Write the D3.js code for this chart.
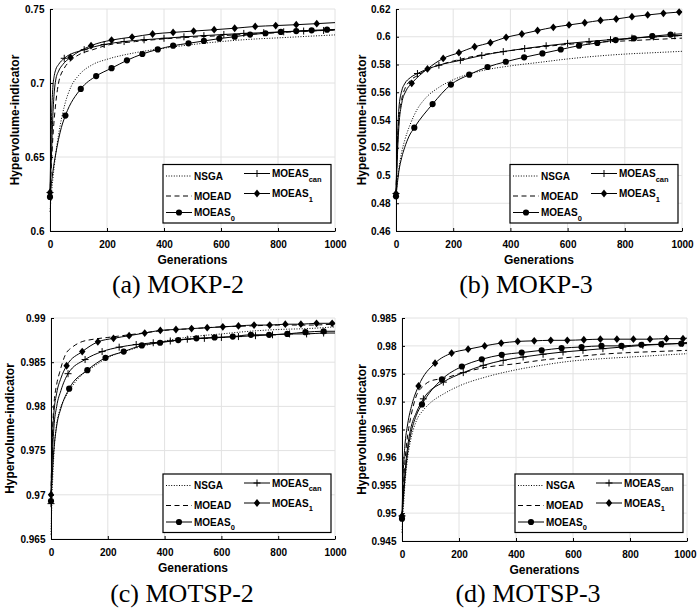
<!DOCTYPE html>
<html>
<head>
<meta charset="utf-8">
<script src="https://cdn.jsdelivr.net/npm/d3@7"></script>
<style>
  body { margin: 0; background: #fff; }
  svg { display: block; }
  text { font-family: "Liberation Sans", Arial, sans-serif; }
</style>
</head>
<body>
<svg id="chart" width="697" height="610"></svg>
<script>
// tick values
const xGenTicks = [0, 200, 400, 600, 800, 1000];
const kp2Ticks = [0.6, 0.65, 0.7, 0.75];
const kp3Ticks = [0.46, 0.48, 0.5, 0.52, 0.54, 0.56, 0.58, 0.6, 0.62];
const tsp2Ticks = [0.965, 0.97, 0.975, 0.98, 0.985, 0.99];
const tsp3Ticks = [0.945, 0.95, 0.955, 0.96, 0.965, 0.97, 0.975, 0.98, 0.985];

// generations used by the unmarked curves (NSGA, MOEAD)
const plainGens = [0, 5, 10, 20, 30, 50, 75, 100, 150, 200, 300, 400, 500, 600, 700, 800, 900, 1000];

// ---- (a) MOKP-2
const kp2NSGA  = [0.613, 0.625, 0.635, 0.652, 0.665, 0.684, 0.698, 0.705, 0.7125, 0.716, 0.7205, 0.7235, 0.726, 0.728, 0.7295, 0.7305, 0.7315, 0.7325];
const kp2MOEAD = [0.625, 0.645, 0.663, 0.686, 0.700, 0.710, 0.7155, 0.719, 0.7225, 0.7255, 0.728, 0.7298, 0.731, 0.732, 0.733, 0.734, 0.735, 0.7358];
const kp2S0Gens  = [0, 10, 20, 30, 40, 54, 108, 162, 216, 270, 324, 378, 432, 486, 540, 594, 648, 702, 756, 810, 864, 918, 972, 1000];
const kp2S0      = [0.623, 0.640, 0.652, 0.662, 0.670, 0.678, 0.696, 0.7047, 0.710, 0.7153, 0.7196, 0.7227, 0.7252, 0.7268, 0.7284, 0.730, 0.7313, 0.7327, 0.7336, 0.7345, 0.7351, 0.7356, 0.736, 0.7362];
const kp2S0Marks = [0, 54, 108, 162, 216, 270, 324, 378, 432, 486, 540, 594, 648, 702, 756, 810, 864, 918, 972];
const kp2ScanGens  = [0, 3, 6, 10, 15, 20, 30, 50, 120, 190, 260, 330, 400, 470, 540, 610, 680, 750, 820, 890, 960, 1000];
const kp2Scan      = [0.626, 0.655, 0.680, 0.697, 0.705, 0.709, 0.7125, 0.7167, 0.7225, 0.726, 0.728, 0.7292, 0.7302, 0.7312, 0.732, 0.7328, 0.7335, 0.734, 0.7346, 0.7351, 0.7355, 0.7358];
const kp2ScanMarks = [0, 50, 120, 190, 260, 330, 400, 470, 540, 610, 680, 750, 820, 890, 960];
const kp2S1Gens  = [0, 5, 10, 15, 20, 30, 45, 72, 144, 216, 288, 360, 432, 504, 576, 648, 720, 792, 864, 936, 1000];
const kp2S1      = [0.626, 0.650, 0.678, 0.694, 0.702, 0.708, 0.7125, 0.7173, 0.7252, 0.729, 0.731, 0.7331, 0.7342, 0.7351, 0.736, 0.737, 0.7382, 0.7388, 0.7394, 0.7401, 0.7408];
const kp2S1Marks = [0, 72, 144, 216, 288, 360, 432, 504, 576, 648, 720, 792, 864, 936];

// ---- (b) MOKP-3
const kp3NSGA  = [0.484, 0.497, 0.505, 0.517, 0.525, 0.537, 0.548, 0.555, 0.5635, 0.569, 0.5755, 0.579, 0.5815, 0.584, 0.586, 0.5875, 0.5885, 0.5895];
const kp3MOEAD = [0.487, 0.520, 0.540, 0.555, 0.562, 0.5685, 0.572, 0.5755, 0.5795, 0.5825, 0.587, 0.590, 0.5925, 0.5945, 0.596, 0.597, 0.598, 0.599];
const kp3S0Gens  = [0, 10, 20, 30, 45, 64, 128, 192, 256, 320, 384, 448, 512, 576, 640, 704, 768, 832, 896, 960, 1000];
const kp3S0      = [0.485, 0.503, 0.513, 0.520, 0.528, 0.5345, 0.5515, 0.5655, 0.5727, 0.5782, 0.582, 0.5852, 0.588, 0.5908, 0.5936, 0.5955, 0.5976, 0.5989, 0.6004, 0.6016, 0.6021];
const kp3S0Marks = [0, 64, 128, 192, 256, 320, 384, 448, 512, 576, 640, 704, 768, 832, 896, 960];
const kp3ScanGens  = [0, 5, 10, 20, 30, 50, 75, 150, 225, 300, 375, 450, 525, 600, 675, 750, 825, 900, 975, 1000];
const kp3Scan      = [0.487, 0.525, 0.548, 0.561, 0.566, 0.5705, 0.5735, 0.5795, 0.583, 0.5865, 0.5893, 0.5915, 0.5935, 0.5952, 0.5966, 0.5979, 0.599, 0.5999, 0.6007, 0.601];
const kp3ScanMarks = [0, 75, 150, 225, 300, 375, 450, 525, 600, 675, 750, 825, 900, 975];
const kp3S1Gens  = [0, 5, 10, 20, 35, 55, 110, 165, 220, 275, 330, 385, 440, 495, 550, 605, 660, 715, 770, 825, 880, 935, 990, 1000];
const kp3S1      = [0.487, 0.515, 0.535, 0.552, 0.561, 0.5664, 0.5768, 0.5844, 0.5885, 0.5928, 0.5957, 0.5996, 0.602, 0.6045, 0.6068, 0.6085, 0.6101, 0.6118, 0.6128, 0.6145, 0.6157, 0.6169, 0.6178, 0.618];
const kp3S1Marks = [0, 55, 110, 165, 220, 275, 330, 385, 440, 495, 550, 605, 660, 715, 770, 825, 880, 935, 990];

// ---- (c) MOTSP-2
const tsp2NSGA  = [0.9655, 0.971, 0.9745, 0.978, 0.9795, 0.981, 0.9823, 0.9833, 0.9845, 0.9855, 0.9866, 0.9874, 0.9879, 0.9882, 0.9885, 0.9887, 0.9888, 0.989];
const tsp2MOEAD = [0.970, 0.977, 0.980, 0.9825, 0.9838, 0.9858, 0.9867, 0.9872, 0.9876, 0.9878, 0.9882, 0.9886, 0.9888, 0.989, 0.9891, 0.9892, 0.9892, 0.9893];
const tsp2S0Gens  = [0, 5, 10, 20, 35, 64, 128, 192, 256, 320, 384, 448, 512, 576, 640, 704, 768, 832, 896, 960, 1000];
const tsp2S0      = [0.9693, 0.9725, 0.975, 0.9778, 0.9798, 0.982, 0.9841, 0.9855, 0.9862, 0.9869, 0.9872, 0.9875, 0.9877, 0.9878, 0.9879, 0.9881, 0.9881, 0.9882, 0.9884, 0.9885, 0.9885];
const tsp2S0Marks = [0, 64, 128, 192, 256, 320, 384, 448, 512, 576, 640, 704, 768, 832, 896, 960];
const tsp2ScanGens  = [0, 5, 10, 20, 35, 60, 120, 180, 240, 300, 360, 420, 480, 540, 600, 660, 720, 780, 840, 900, 960, 1000];
const tsp2Scan      = [0.969, 0.9745, 0.9775, 0.980, 0.9818, 0.9837, 0.9853, 0.9862, 0.9867, 0.987, 0.9872, 0.9874, 0.9876, 0.9877, 0.9878, 0.9879, 0.988, 0.9881, 0.9882, 0.9882, 0.9883, 0.9883];
const tsp2ScanMarks = [0, 60, 120, 180, 240, 300, 360, 420, 480, 540, 600, 660, 720, 780, 840, 900, 960];
const tsp2S1Gens  = [0, 5, 10, 20, 35, 55, 110, 165, 220, 275, 330, 385, 440, 495, 550, 605, 660, 715, 770, 825, 880, 935, 990, 1000];
const tsp2S1      = [0.970, 0.9765, 0.9792, 0.9815, 0.9832, 0.9846, 0.9862, 0.9873, 0.9877, 0.988, 0.9883, 0.9886, 0.9887, 0.9888, 0.9889, 0.989, 0.9891, 0.9892, 0.9892, 0.9893, 0.9893, 0.9894, 0.9894, 0.9894];
const tsp2S1Marks = [0, 55, 110, 165, 220, 275, 330, 385, 440, 495, 550, 605, 660, 715, 770, 825, 880, 935, 990];

// ---- (d) MOTSP-3
const tsp3NSGA  = [0.9465, 0.951, 0.955, 0.960, 0.963, 0.9665, 0.9685, 0.9698, 0.9715, 0.9728, 0.9745, 0.9757, 0.9766, 0.9773, 0.9777, 0.978, 0.9783, 0.9786];
const tsp3MOEAD = [0.9495, 0.955, 0.959, 0.964, 0.967, 0.971, 0.9728, 0.9737, 0.9742, 0.975, 0.9762, 0.9768, 0.9775, 0.978, 0.9785, 0.9788, 0.979, 0.9792];
const tsp3S0Gens  = [0, 10, 20, 30, 50, 70, 140, 210, 280, 350, 420, 490, 560, 630, 700, 770, 840, 910, 980, 1000];
const tsp3S0      = [0.949, 0.956, 0.961, 0.964, 0.9675, 0.9695, 0.974, 0.9763, 0.9776, 0.9784, 0.9788, 0.9792, 0.9796, 0.9798, 0.980, 0.980, 0.9802, 0.9803, 0.9804, 0.9804];
const tsp3S0Marks = [0, 70, 140, 210, 280, 350, 420, 490, 560, 630, 700, 770, 840, 910, 980];
const tsp3ScanGens  = [0, 10, 20, 30, 50, 75, 145, 215, 285, 355, 425, 495, 565, 635, 705, 775, 845, 915, 985, 1000];
const tsp3Scan      = [0.9495, 0.957, 0.962, 0.965, 0.968, 0.9705, 0.9735, 0.9752, 0.9765, 0.9774, 0.978, 0.9785, 0.9789, 0.9792, 0.9795, 0.9798, 0.9801, 0.9803, 0.9805, 0.9806];
const tsp3ScanMarks = [0, 75, 145, 215, 285, 355, 425, 495, 565, 635, 705, 775, 845, 915, 985];
const tsp3S1Gens  = [0, 5, 10, 20, 35, 58, 116, 174, 232, 290, 348, 406, 464, 522, 580, 638, 696, 754, 812, 870, 928, 986, 1000];
const tsp3S1      = [0.9495, 0.958, 0.962, 0.966, 0.9695, 0.9728, 0.9769, 0.9787, 0.9794, 0.980, 0.9805, 0.9808, 0.9809, 0.981, 0.981, 0.9811, 0.9812, 0.9812, 0.9812, 0.9812, 0.9813, 0.9813, 0.9814];
const tsp3S1Marks = [0, 58, 116, 174, 232, 290, 348, 406, 464, 522, 580, 638, 696, 754, 812, 870, 928, 986];

// line / marker style of each method
const styles = {
  NSGA:     { dash: '1,1.6', marker: null },
  MOEAD:    { dash: '5,3.5', marker: null },
  MOEAS0:   { dash: null, marker: 'circle' },
  MOEAScan: { dash: null, marker: 'plus' },
  MOEAS1:   { dash: null, marker: 'diamond' }
};

function makeSeries(nsga, moead, s0g, s0, s0m, scg, sc, scm, s1g, s1, s1m) {
  return [
    { name: 'NSGA', gens: plainGens, vals: nsga, marks: [] },
    { name: 'MOEAD', gens: plainGens, vals: moead, marks: [] },
    { name: 'MOEAS0', gens: s0g, vals: s0, marks: s0m },
    { name: 'MOEAScan', gens: scg, vals: sc, marks: scm },
    { name: 'MOEAS1', gens: s1g, vals: s1, marks: s1m }
  ];
}

const panels = [
  { l: 50, r: 335, t: 9, b: 231, dom: [0.6, 0.75], ticks: kp2Ticks, ylabX: 18.5,
    leg: [163, 164.5], cap: '(a) MOKP-2', capX: 178, capY: 293,
    series: makeSeries(kp2NSGA, kp2MOEAD, kp2S0Gens, kp2S0, kp2S0Marks, kp2ScanGens, kp2Scan, kp2ScanMarks, kp2S1Gens, kp2S1, kp2S1Marks) },
  { l: 396, r: 682, t: 9, b: 231, dom: [0.46, 0.62], ticks: kp3Ticks, ylabX: 365.5,
    leg: [510, 164.5], cap: '(b) MOKP-3', capX: 526, capY: 293,
    series: makeSeries(kp3NSGA, kp3MOEAD, kp3S0Gens, kp3S0, kp3S0Marks, kp3ScanGens, kp3Scan, kp3ScanMarks, kp3S1Gens, kp3S1, kp3S1Marks) },
  { l: 51, r: 335, t: 318, b: 539, dom: [0.965, 0.99], ticks: tsp2Ticks, ylabX: 13.5,
    leg: [163, 474], cap: '(c) MOTSP-2', capX: 182, capY: 601.5,
    series: makeSeries(tsp2NSGA, tsp2MOEAD, tsp2S0Gens, tsp2S0, tsp2S0Marks, tsp2ScanGens, tsp2Scan, tsp2ScanMarks, tsp2S1Gens, tsp2S1, tsp2S1Marks) },
  { l: 402, r: 687, t: 318, b: 541, dom: [0.945, 0.985], ticks: tsp3Ticks, ylabX: 365.5,
    leg: [515, 474], cap: '(d) MOTSP-3', capX: 528, capY: 601.5,
    series: makeSeries(tsp3NSGA, tsp3MOEAD, tsp3S0Gens, tsp3S0, tsp3S0Marks, tsp3ScanGens, tsp3Scan, tsp3ScanMarks, tsp3S1Gens, tsp3S1, tsp3S1Marks) }
];

const svg = d3.select('#chart');
const W = +svg.attr('width');
const bold = 'bold';

function drawMarker(g, type, cx, cy) {
  if (type === 'circle') {
    g.append('circle').attr('cx', cx).attr('cy', cy).attr('r', 3.1).attr('fill', '#000');
  } else if (type === 'diamond') {
    g.append('path')
      .attr('d', `M${cx},${cy - 3.9}L${cx + 3.2},${cy}L${cx},${cy + 3.9}L${cx - 3.2},${cy}Z`)
      .attr('fill', '#000');
  } else if (type === 'plus') {
    g.append('path')
      .attr('d', `M${cx - 3.5},${cy}H${cx + 3.5}M${cx},${cy - 3.5}V${cy + 3.5}`)
      .attr('stroke', '#000').attr('stroke-width', 1).attr('fill', 'none');
  }
}

function drawPanel(p) {
  const g = svg.append('g');
  const x = d3.scaleLinear().domain([0, 1000]).range([p.l, p.r]);
  const y = d3.scaleLinear().domain(p.dom).range([p.b, p.t]);

  // grid
  g.append('g').selectAll('line').data(xGenTicks).join('line')
    .attr('x1', d => x(d)).attr('x2', d => x(d))
    .attr('y1', p.t).attr('y2', p.b)
    .attr('stroke', '#e2e2e2').attr('stroke-width', 1);
  g.append('g').selectAll('line').data(p.ticks).join('line')
    .attr('x1', p.l).attr('x2', p.r)
    .attr('y1', d => y(d)).attr('y2', d => y(d))
    .attr('stroke', '#e2e2e2').attr('stroke-width', 1);

  // axes (ticks pointing inward)
  const xAxis = g.append('g')
    .attr('transform', `translate(0,${p.b})`)
    .call(d3.axisBottom(x).tickValues(xGenTicks).tickSizeInner(-3).tickSizeOuter(0).tickFormat(d3.format('d')));
  xAxis.selectAll('text').attr('y', 17).attr('dy', null);

  const yAxis = g.append('g')
    .attr('transform', `translate(${p.l},0)`)
    .call(d3.axisLeft(y).tickValues(p.ticks).tickSizeInner(-3).tickSizeOuter(0).tickPadding(5.5)
      .tickFormat(d => String(+d.toFixed(4))));

  [xAxis, yAxis].forEach(a => {
    a.attr('font-family', '"Liberation Sans", Arial, sans-serif')
     .attr('font-size', 10).attr('font-weight', bold);
    a.select('.domain').attr('stroke', '#000').attr('stroke-width', 1);
    a.selectAll('.tick line').attr('stroke', '#000');
    a.selectAll('text').attr('fill', '#000');
  });

  // keep a tick label that would run past the page edge inside it
  xAxis.selectAll('.tick').each(function (d) {
    const t = d3.select(this).select('text');
    const half = t.node().getComputedTextLength() / 2;
    const over = x(d) + half - (W - 1);
    if (over > 0) t.attr('x', -over);
  });

  // axis titles
  g.append('text')
    .attr('x', (p.l + p.r) / 2).attr('y', p.b + 33)
    .attr('text-anchor', 'middle').attr('font-size', 12).attr('font-weight', bold)
    .text('Generations');
  g.append('text')
    .attr('transform', `translate(${p.ylabX},${(p.t + p.b) / 2}) rotate(-90)`)
    .attr('text-anchor', 'middle').attr('font-size', 12).attr('font-weight', bold)
    .text('Hypervolume-indicator');

  // curves
  const line = d3.line()
    .x(d => x(d[0]))
    .y(d => y(d[1]))
    .curve(d3.curveMonotoneX);

  p.series.forEach(s => {
    const pts = s.gens.map((gen, i) => [gen, s.vals[i]]);
    const st = styles[s.name];
    g.append('path')
      .datum(pts)
      .attr('d', line)
      .attr('fill', 'none')
      .attr('stroke', '#000')
      .attr('stroke-width', 1)
      .attr('stroke-dasharray', st.dash);
    if (st.marker) {
      pts.filter(d => s.marks.includes(d[0]))
        .forEach(d => drawMarker(g, st.marker, x(d[0]), y(d[1])));
    }
  });

  // legend
  const [bx, by] = p.leg;
  const lg = g.append('g').attr('transform', `translate(${bx},${by})`);
  lg.append('rect')
    .attr('width', 168).attr('height', 58.5)
    .attr('fill', '#fff').attr('stroke', '#000').attr('stroke-width', 1.2);

  const entries = [
    { name: 'NSGA', label: 'NSGA', sub: null, lx: 3, ty: 11.5 },
    { name: 'MOEAD', label: 'MOEAD', sub: null, lx: 3, ty: 31.5 },
    { name: 'MOEAS0', label: 'MOEAS', sub: '0', lx: 3, ty: 48 },
    { name: 'MOEAScan', label: 'MOEAS', sub: 'can', lx: 81, ty: 9 },
    { name: 'MOEAS1', label: 'MOEAS', sub: '1', lx: 81, ty: 29 }
  ];
  entries.forEach(e => {
    const st = styles[e.name];
    lg.append('line')
      .attr('x1', e.lx).attr('x2', e.lx + 26)
      .attr('y1', e.ty).attr('y2', e.ty)
      .attr('stroke', '#000').attr('stroke-width', 1)
      .attr('stroke-dasharray', st.dash);
    if (st.marker) drawMarker(lg, st.marker, e.lx + 13, e.ty);
    const t = lg.append('text')
      .attr('x', e.lx + 28).attr('y', e.ty + 3.6)
      .attr('font-size', 10).attr('font-weight', bold)
      .attr('fill', '#000')
      .text(e.label);
    if (e.sub) {
      t.append('tspan').attr('dy', 4.5).attr('font-size', 7.5).attr('fill', '#000').text(e.sub);
    }
  });

  // caption
  svg.append('text')
    .attr('x', p.capX).attr('y', p.capY)
    .attr('text-anchor', 'middle')
    .style('font-family', '"Liberation Serif", "Times New Roman", serif')
    .attr('font-size', 26)
    .text(p.cap);
}

panels.forEach(drawPanel);
</script>
</body>
</html>
